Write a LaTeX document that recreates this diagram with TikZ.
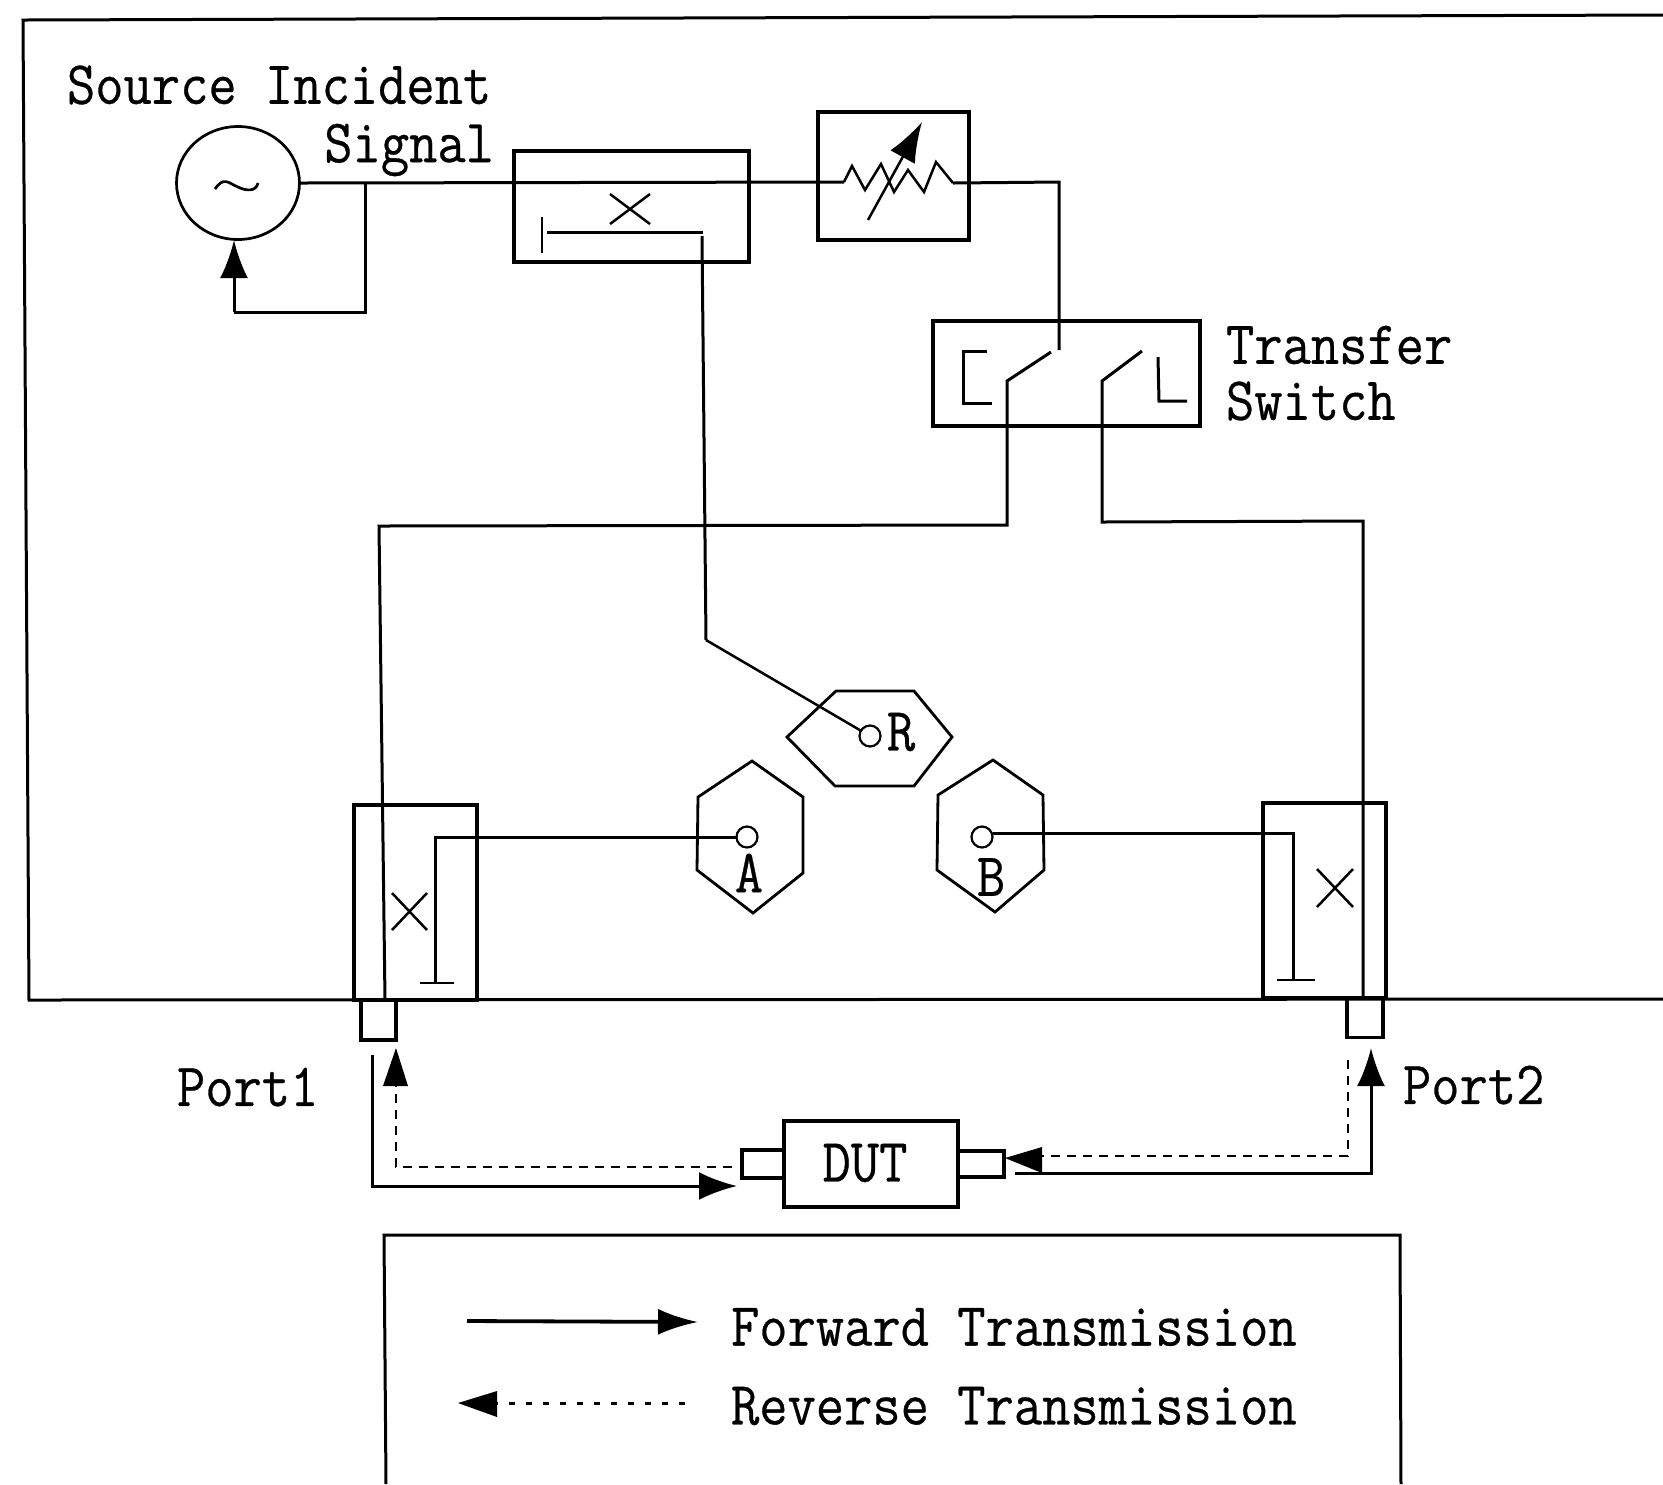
\documentclass[tikz,border=0pt]{standalone}
\usepackage{graphicx}
\usepackage{fontspec}
\usetikzlibrary{arrows.meta,positioning,calc,shapes.geometric}
\newfontfamily\lmf[FakeBold=0.5]{Latin Modern Mono}
\newcommand{\lbl}[1]{\scalebox{0.893}[1]{\fontsize{17.5}{20}\selectfont\lmf #1}}
\tikzset{
  ln/.style={line width=0.3mm,line join=miter},
  thinln/.style={line width=0.2mm},
  boxn/.style={draw,line width=0.34mm,inner sep=0pt,outer sep=0pt},
  portc/.style={circle,draw,line width=0.22mm,inner sep=0pt,outer sep=0pt,minimum size=2.1mm},
  txt/.style={inner sep=0pt,outer sep=0pt},
  dash1/.style={line width=0.25mm,dash pattern=on 0.9mm off 0.7mm},
  dash2/.style={line width=0.3mm,dash pattern=on 0.6mm off 1.1mm},
  headS/.style={-{Latex[length=3.8mm,width=2.8mm]}},
}
\begin{document}
\begin{tikzpicture}[x=0.1mm,y=-0.1mm]
\useasboundingbox (0,0) rectangle (1663,1484);
% outer frame (open on the right)
\coordinate (fTR) at (1663,15);
\coordinate (fTL) at (23,20);
\coordinate (fBL) at (29,1000);
\coordinate (fBR) at (1663,999);
\draw[ln] (fTR) -- (fTL) -- (fBL) -- (fBR);
% source
\node[draw,ellipse,line width=0.27mm,minimum width=12.3mm,minimum height=11.3mm,inner sep=0,outer sep=0] (src) at (238,183) {};
\path[draw,line width=0.27mm] (215,189) .. controls (224,176) and (228,183) .. (238,187) .. controls (246,191) and (256,192) .. (258,183);
\coordinate (jn) at (365,182);
\coordinate (fbA) at (365,312);
\coordinate (fbB) at (234,312);
\draw[ln] (jn) -- (fbA) -- (fbB);
\draw[ln,headS] (fbB) -- (234,240);
% coupler
\node[boxn,minimum width=23.5mm,minimum height=11.1mm] (coup) at (631.5,206.5) {};
\node[boxn,minimum width=15.1mm,minimum height=12.8mm] (att) at (893.5,176) {};
\node[boxn,minimum width=26.7mm,minimum height=10.5mm] (sw) at (1066.5,373.5) {};
\coordinate (zs) at (844,182);
\coordinate (ze) at (953,183);
\draw[ln] (src.east) -- (zs);
\draw[line width=0.25mm] (zs) -- (852,166) -- (865,190) -- (881,164) -- (894,192) -- (908,170) -- (924,192) -- (936,162) -- (ze);
\coordinate (swin) at (1059,350);
\draw[ln] (ze) -- (1059,182) -- (swin);
% variable attenuator arrow
\coordinate (vs) at (868,220);
\coordinate (vt) at (922,122);
\draw[line width=0.25mm,-{Latex[length=4mm,width=2.8mm]}] (vs) -- (vt);
% coupler internals
\draw[line width=0.2mm] (542,217) -- (542,253);
\coordinate (cl) at (547,232);
\coordinate (cr) at (703,232);
\coordinate (rk) at (706,640);
\draw[ln] (cl) -- (cr);
\draw[ln] (702,236) -- (rk);
\draw[line width=0.25mm] (610,194) -- (650,224) (650,194) -- (610,224);
% switch internals
\draw[ln] (987,351) -- (963,351) -- (963,403) -- (992,403);
\draw[ln] (1158,357) -- (1159,401) -- (1187,401);
\coordinate (bl1) at (1051,352);
\coordinate (bl2) at (1007,381);
\coordinate (bl3) at (1007,525);
\coordinate (br1) at (1142,351);
\coordinate (br2) at (1102,381);
\coordinate (br3) at (1102,522);
\coordinate (p1top) at (379,526);
\coordinate (p2top) at (1363,521);
\draw[ln] (bl1) -- (bl2) -- (bl3) -- (p1top) -- (385,1000);
\draw[ln] (br1) -- (br2) -- (br3) -- (p2top) -- (1363,998);
% receivers
\draw[line width=0.28mm] (752,761) -- (803,797) -- (803,873) -- (753,913) -- (697,870) -- (698,797) -- cycle;
\draw[line width=0.28mm] (993,760) -- (1043,795) -- (1044,870) -- (995,912) -- (937,870) -- (938,795) -- cycle;
\draw[line width=0.28mm] (836,691) -- (914,691) -- (952,737) -- (914,786) -- (835,786) -- (787,737) -- cycle;
\node[portc] (cR) at (870,736) {};
\node[portc] (cA) at (747,837) {};
\node[portc] (cB) at (982,837) {};
\node[txt] (lR) at (901,732) {\lbl{R}};
\node[txt] (lA) at (749,873) {\lbl{A}};
\node[txt] (lB) at (991,877) {\lbl{B}};
\draw[line width=0.25mm] (rk) -- (cR);
% port couplers
\node[boxn,minimum width=12.3mm,minimum height=19.5mm] (c1) at (415.5,902.5) {};
\node[boxn,minimum width=12.3mm,minimum height=19.5mm] (c2) at (1324.5,900.5) {};
\node[boxn,minimum width=3.5mm,minimum height=4mm] (p1) at (378.5,1020) {};
\node[boxn,minimum width=3.6mm,minimum height=3.9mm] (p2) at (1365,1018) {};
\coordinate (a1) at (435,837);
\coordinate (a2) at (435,983);
\draw[ln] (cA) -- (a1) -- (a2);
\draw[line width=0.2mm] (420,983) -- (454,983);
\draw[line width=0.25mm] (392,893) -- (427,930) (427,893) -- (392,930);
\coordinate (b1) at (1293,833);
\coordinate (b2) at (1293,980);
\draw[ln] (993,833) -- (b1) -- (b2);
\draw[line width=0.25mm] (1277,980) -- (1315,980);
\draw[line width=0.25mm] (1317,869) -- (1353,907) (1353,869) -- (1317,907);
% DUT
\node[boxn,minimum width=17.4mm,minimum height=8.6mm] (dut) at (871,1164) {};
\node[boxn,anchor=east,minimum width=4.2mm,minimum height=2.8mm] (dl) at (dut.west) {};
\node[boxn,anchor=west,minimum width=4.6mm,minimum height=2.6mm] (dr) at (dut.east) {};
\node[txt] (tdut) at (865,1163) {\lbl{DUT}};
% forward / reverse paths
\coordinate (s1) at (372,1055);
\coordinate (s2) at (372,1186);
\draw[ln,headS] (s1) -- (s2) -- (737,1186);
\coordinate (d1) at (732,1167);
\coordinate (d2) at (396,1167);
\draw[dash1] (d1) -- (d2) -- (396,1085);
\fill (396,1048) -- (408,1086) -- (383,1086) -- cycle;
\coordinate (s3) at (1015,1173);
\coordinate (s4) at (1371,1173);
\draw[ln,headS] (s3) -- (s4) -- (1371,1048);
\coordinate (d3) at (1348,1060);
\coordinate (d4) at (1348,1156);
\draw[dash1] (d3) -- (d4) -- (1042,1156);
\fill (1005,1158) -- (1042,1147) -- (1042,1173) -- cycle;
% legend (runs off the lower edge)
\coordinate (lgBL) at (386,1484);
\coordinate (lgTL) at (384,1235);
\coordinate (lgTR) at (1400,1235);
\coordinate (lgBR) at (1401,1484);
\draw[ln] (lgBL) -- (lgTL) -- (lgTR) -- (lgBR);
\coordinate (f1) at (467,1321);
\coordinate (f2) at (698,1322);
\draw[line width=0.38mm,-{Latex[length=4mm,width=2.6mm]}] (f1) -- (f2);
\coordinate (r1) at (685,1403);
\coordinate (r2) at (458,1403);
\draw[dash2] (r1) -- (497,1403);
\fill (r2) -- (497,1391) -- (497,1417) -- cycle;
% labels
\node[txt,anchor=west] (t1) at (67,85) {\lbl{Source Incident}};
\node[txt,anchor=east] (t2) at (494,150) {\lbl{Signal}};
\node[txt,anchor=west] (t3) at (1226,345) {\lbl{Transfer}};
\node[txt,anchor=west] (t4) at (1226,401) {\lbl{Switch}};
\node[txt,anchor=west] (t5) at (177,1087) {\lbl{Port1}};
\node[txt,anchor=west] (t6) at (1403,1085) {\lbl{Port2}};
\node[txt,anchor=west] (t7) at (731,1327) {\lbl{Forward Transmission}};
\node[txt,anchor=west] (t8) at (731,1406) {\lbl{Reverse Transmission}};
\end{tikzpicture}
\end{document}
